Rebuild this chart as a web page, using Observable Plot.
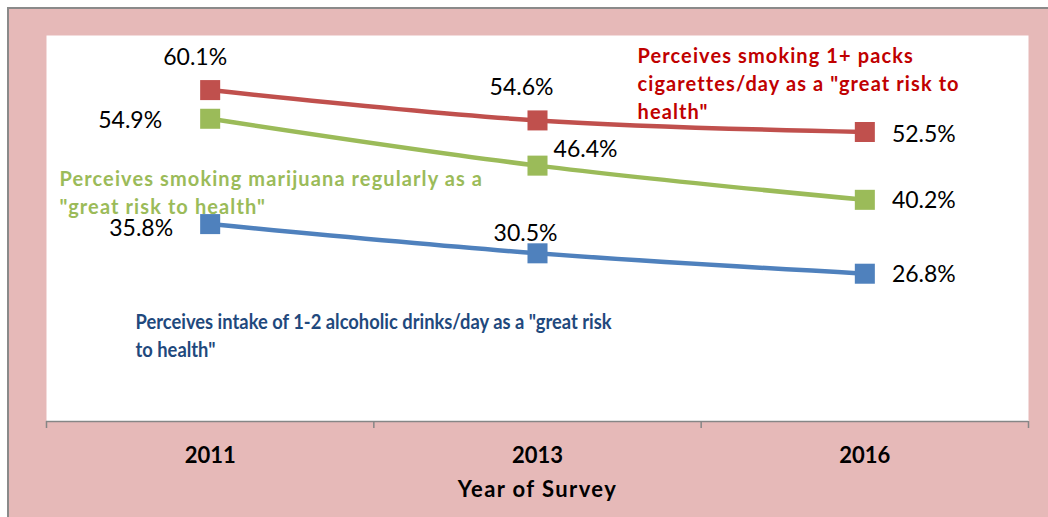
<!DOCTYPE html>
<html>
<head>
<meta charset="utf-8">
<script src="https://cdn.jsdelivr.net/npm/d3@7"></script>
<script src="https://cdn.jsdelivr.net/npm/@observablehq/plot@0.6"></script>
<style>
  html, body { margin: 0; padding: 0; background: #ffffff; }
  #wrap { position: relative; width: 1048px; height: 517px; overflow: hidden; background: #ffffff; }
  #bg { position: absolute; left: 7px; top: 7px; right: 0; bottom: 0; background: #E6B9B8;
        border-left: 2px solid #8a8a8a; border-top: 2px solid #8a8a8a; }
  #chart { position: absolute; left: 0; top: 0; }
</style>
</head>
<body>
<div id="wrap"><div id="bg"></div><div id="chart"></div></div>
<script>
// ---- data ----
const years = ["2011", "2013", "2016"];
const cigarettes = [60.1, 54.6, 52.5];
const marijuana = [54.9, 46.4, 40.2];
const alcohol = [35.8, 30.5, 26.8];
const seriesKeys = ["cigarettes", "marijuana", "alcohol"];
const seriesLabels = [
  "Perceives smoking 1+ packs\ncigarettes/day as a \"great risk to\nhealth\"",
  "Perceives smoking marijuana regularly as a\n\"great risk to health\"",
  "Perceives intake of 1-2 alcoholic drinks/day as a \"great risk\nto health\""
];
const xTitle = "Year of Survey";

// ---- styles / placement ----
const lineColors = {cigarettes: "#C0504D", marijuana: "#9BBB59", alcohol: "#4F81BD"};
const labelColors = {cigarettes: "#C00000", marijuana: "#9BBB59", alcohol: "#1F497D"};
const labelSpacing = {cigarettes: "1.1px", marijuana: "1.1px", alcohol: "0px"};
const labelSqueeze = {cigarettes: 1, marijuana: 1, alcohol: 0.917};
const valueLabelOffsets = {
  cigarettes: [[-15, -32], [-16, -33], [59, 3]],
  marijuana:  [[-80, 2], [48, -16], [59, 1]],
  alcohol:    [[-69, 5], [-12, -20], [59, 1]]
};
const seriesLabelPos = {
  cigarettes: [591, 8],
  marijuana:  [13, 131],
  alcohol:    [89, 274]
};

const valuesBySeries = {cigarettes, marijuana, alcohol};
const rows = seriesKeys.flatMap(s => valuesBySeries[s].map((v, i) => ({series: s, i, year: years[i], value: v})));
const boundaries = d3.range(years.length + 1).map(k => k - 0.5);

const marks = [
  Plot.frame({fill: "white", stroke: "none"}),
  Plot.ruleY([0], {stroke: "#868686", strokeWidth: 1.5}),
  Plot.axisX({ticks: boundaries, tickSize: 7, tickFormat: () => "", stroke: "#868686", strokeWidth: 1.5, label: null}),
  Plot.axisX({ticks: d3.range(years.length), tickSize: 0, tickPadding: 26, tickFormat: i => years[i],
              fontSize: 22, fontWeight: "bold", fill: "#000", label: null}),
  Plot.text([xTitle], {frameAnchor: "bottom", dy: 75, fontSize: 22, fontWeight: "bold", fill: "#000"})
];

for (const s of seriesKeys) {
  const data = rows.filter(d => d.series === s);
  marks.push(Plot.line(data, {x: "i", y: "value", stroke: lineColors[s], strokeWidth: 4.5, curve: "catmull-rom"}));
  marks.push(Plot.dot(data, {x: "i", y: "value", symbol: "square", r: 11.3, fill: lineColors[s], stroke: "none"}));
  data.forEach((d, k) => {
    const [dx, dy] = valueLabelOffsets[s][k];
    marks.push(Plot.text([d], {x: "i", y: "value", text: d => d.value.toFixed(1) + "%", dx, dy,
      fontSize: 23, fill: "#000"}));
  });
  const [ldx, ldy] = seriesLabelPos[s];
  marks.push(Plot.text([seriesLabels[seriesKeys.indexOf(s)]], {frameAnchor: "top-left", dx: ldx, dy: ldy,
    textAnchor: "start", lineAnchor: "top", lineHeight: 1.4, fontSize: 20, fontWeight: "bold", fill: labelColors[s]}));
}

const chart = Plot.plot({
  width: 1048, height: 517,
  marginLeft: 46, marginRight: 20, marginTop: 35, marginBottom: 96,
  style: {background: "transparent", fontFamily: "Lato, 'Open Sans', sans-serif", overflow: "visible"},
  x: {type: "linear", domain: [-0.5, years.length - 0.5], axis: null},
  y: {domain: [0, 70], axis: null},
  marks
});
document.getElementById("chart").appendChild(chart);

// width tweaks to mimic the original font widths
chart.querySelectorAll("text").forEach(t => {
  const txt = t.textContent;
  seriesKeys.forEach((s, k) => {
    if (txt === seriesLabels[k].replace(/\n/g, "")) {
      t.style.letterSpacing = labelSpacing[s];
      if (labelSqueeze[s] !== 1) {
        const parts = t.querySelectorAll("tspan");
        (parts.length ? parts : [t]).forEach(p => {
          const len = p.getComputedTextLength();
          p.setAttribute("textLength", (len * labelSqueeze[s]).toFixed(1));
          p.setAttribute("lengthAdjust", "spacingAndGlyphs");
        });
      }
    }
  });
  if (txt === xTitle) t.style.letterSpacing = "1.4px";
});
</script>
</body>
</html>
